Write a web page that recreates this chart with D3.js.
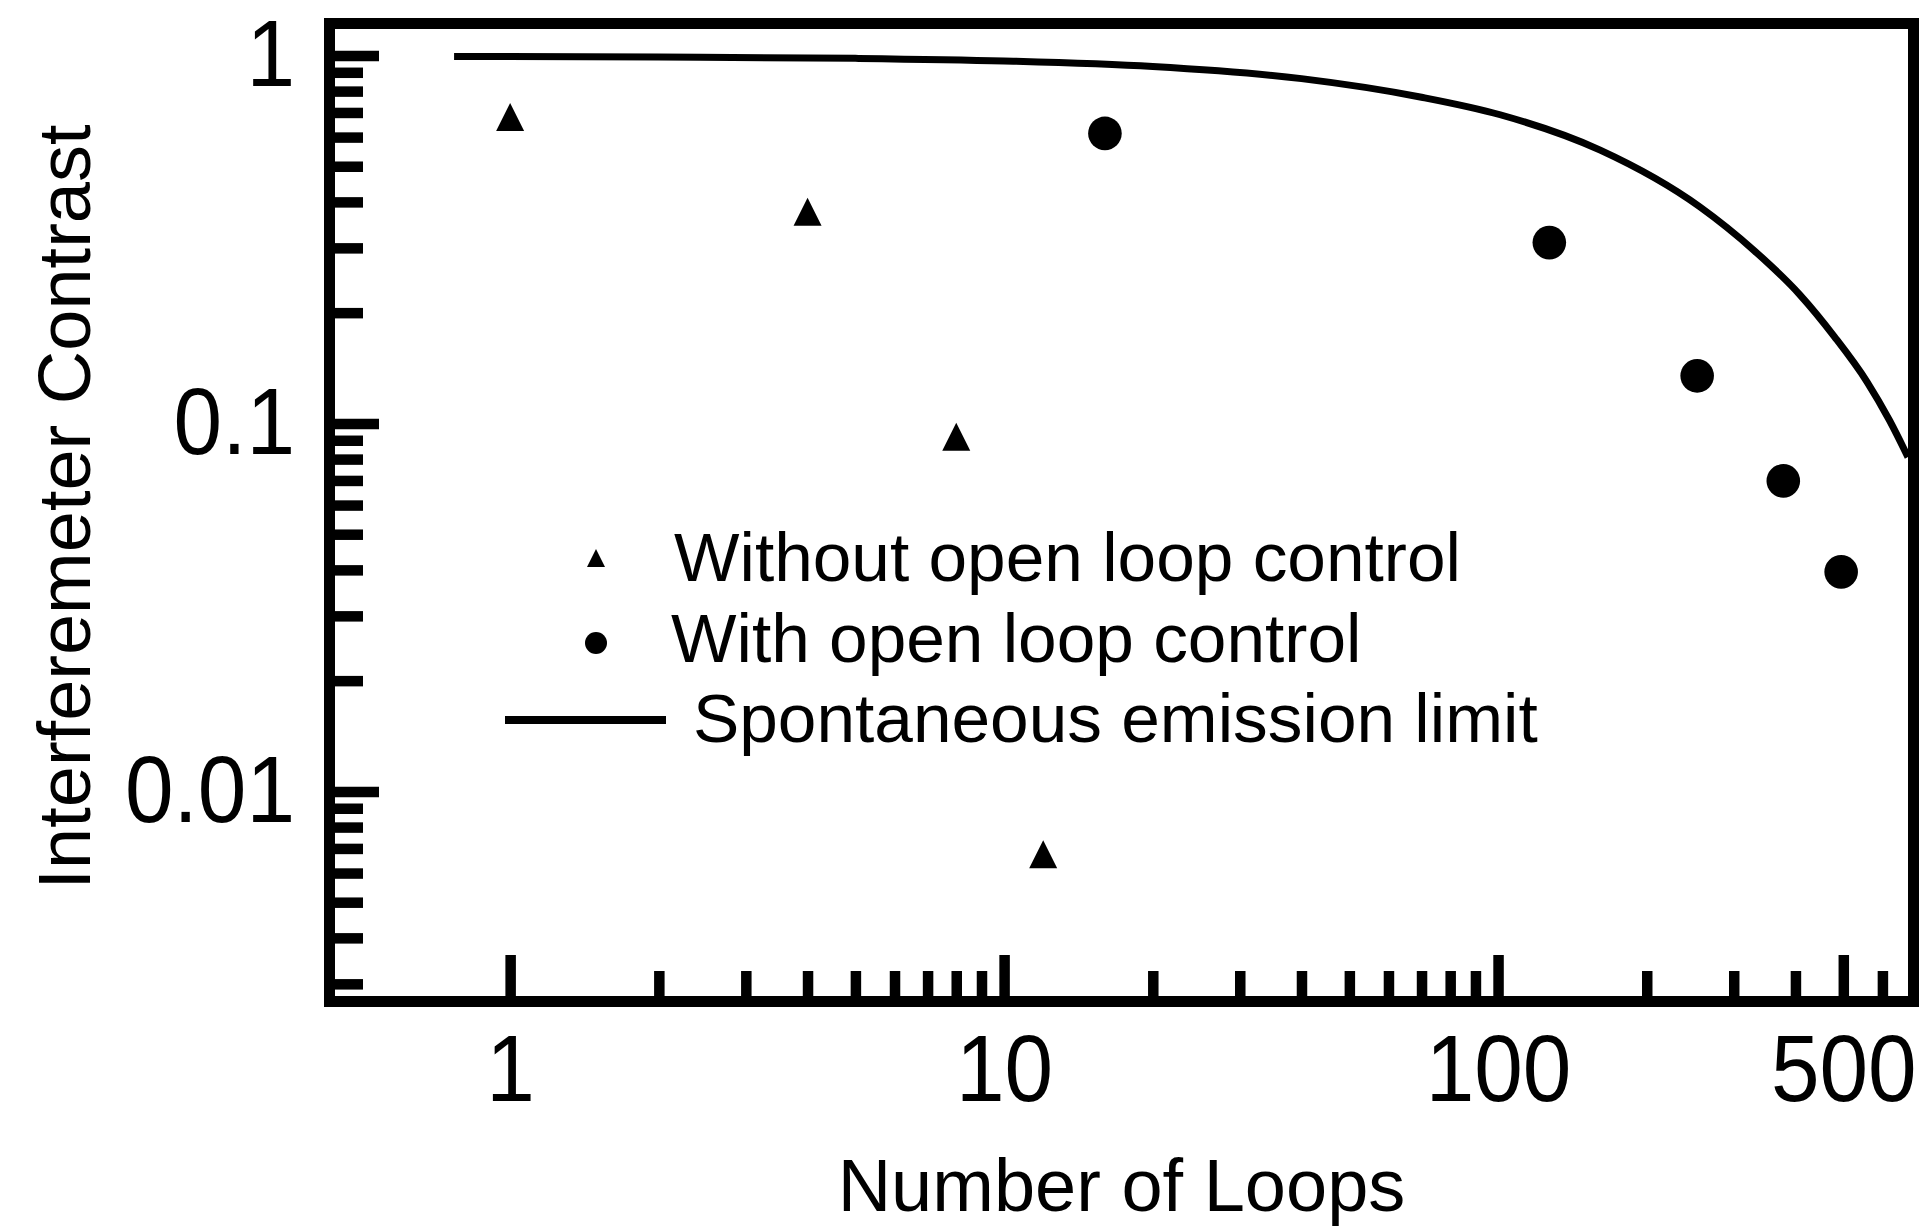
<!DOCTYPE html>
<html>
<head>
<meta charset="utf-8">
<script src="https://cdn.jsdelivr.net/npm/d3@7"></script>
<style>
  html, body { margin: 0; padding: 0; background: #fff; }
  svg { display: block; }
  text { font-family: "Liberation Sans", Arial, Helvetica, sans-serif; fill: #000; }
</style>
</head>
<body>
<svg id="chart" width="1932" height="1230"></svg>
<script>
// Measured interferometer contrast versus number of loops
const loopsWithout = [1, 4, 8, 12];
const contrastWithout = [0.68, 0.376, 0.092, 0.00675];

const loopsWith = [16, 127, 253, 378, 495];
const contrastWith = [0.614, 0.31, 0.1347, 0.0698, 0.0395];

// Spontaneous emission limit curve
const limitLoops = [0.77, 2, 5, 10, 20, 40, 70, 101, 161, 256, 330, 408, 480, 558, 620, 676];
const limitContrast = [0.994, 0.99, 0.982, 0.966, 0.933, 0.865, 0.77, 0.69, 0.553, 0.388, 0.295, 0.224, 0.172, 0.13, 0.102, 0.081];

// Axis ticks
const xMajorTicks = [1, 10, 100, 500];
const xMinorTicks = [2, 3, 4, 5, 6, 7, 8, 9, 20, 30, 40, 50, 60, 70, 80, 90, 200, 300, 400, 600];
const yMajorTicks = [0.01, 0.1, 1];
const yMinorTicks = [0.003, 0.004, 0.005, 0.006, 0.007, 0.008, 0.009,
                     0.02, 0.03, 0.04, 0.05, 0.06, 0.07, 0.08, 0.09,
                     0.2, 0.3, 0.4, 0.5, 0.6, 0.7, 0.8, 0.9];

const legendLabels = ["Without open loop control", "With open loop control", "Spontaneous emission limit"];
const xTitle = "Number of Loops";
const yTitle = "Interferemeter Contrast";

// Layout
const plot = { left: 335, right: 1908, top: 29, bottom: 996 };
const frameWidth = 11;
const tickWidth = 10.5;
const labelSqueeze = 0.92;   // tick labels are set slightly condensed

const svg = d3.select("#chart");

const x = d3.scaleLog().domain([0.442, 676]).range([plot.left, plot.right]);
const y = d3.scaleLog().domain([0.00278, 1.18]).range([plot.bottom, plot.top]);

// Clip region for the data area
svg.append("defs").append("clipPath").attr("id", "plot-clip")
  .append("rect")
  .attr("x", plot.left).attr("y", plot.top)
  .attr("width", plot.right - plot.left).attr("height", plot.bottom - plot.top);

function styleAxis(g, fontSize) {
  g.select(".domain").remove();
  g.selectAll(".tick line").attr("stroke", "#000").attr("stroke-width", tickWidth);
  g.selectAll(".tick text").attr("font-size", fontSize).attr("fill", "#000")
    .style("font-family", "'Liberation Sans', Arial, sans-serif")
    .attr("x", function () { return (+d3.select(this).attr("x") || 0) / labelSqueeze; })
    .attr("transform", `scale(${labelSqueeze},1)`);
}

// X axis: major (labelled) and minor ticks, pointing inward
svg.append("g")
  .attr("transform", `translate(0,${plot.bottom})`)
  .call(d3.axisBottom(x).tickValues(xMajorTicks).tickSizeInner(-41).tickSizeOuter(0)
    .tickPadding(38).tickFormat(d3.format("d")))
  .call(g => styleAxis(g, 95));

svg.append("g")
  .attr("transform", `translate(0,${plot.bottom})`)
  .call(d3.axisBottom(x).tickValues(xMinorTicks).tickSizeInner(-25).tickSizeOuter(0)
    .tickFormat(() => ""))
  .call(g => styleAxis(g, 95));

// Y axis
svg.append("g")
  .attr("transform", `translate(${plot.left},0)`)
  .call(d3.axisLeft(y).tickValues(yMajorTicks).tickSizeInner(-44).tickSizeOuter(0)
    .tickPadding(40).tickFormat(d => String(d)))
  .call(g => styleAxis(g, 95));

svg.append("g")
  .attr("transform", `translate(${plot.left},0)`)
  .call(d3.axisLeft(y).tickValues(yMinorTicks).tickSizeInner(-28).tickSizeOuter(0)
    .tickFormat(() => ""))
  .call(g => styleAxis(g, 95));

// Frame
svg.append("rect")
  .attr("x", plot.left - frameWidth / 2)
  .attr("y", plot.top - frameWidth / 2)
  .attr("width", plot.right - plot.left + frameWidth)
  .attr("height", plot.bottom - plot.top + frameWidth)
  .attr("fill", "none")
  .attr("stroke", "#000")
  .attr("stroke-width", frameWidth);

// Spontaneous emission limit
const limitData = limitLoops.map((n, i) => ({ n, c: limitContrast[i] }));
const line = d3.line().x(d => x(d.n)).y(d => y(d.c)).curve(d3.curveMonotoneX);
svg.append("path")
  .datum(limitData)
  .attr("clip-path", "url(#plot-clip)")
  .attr("d", line)
  .attr("fill", "none")
  .attr("stroke", "#000")
  .attr("stroke-width", 7);

// Marker shapes
const triangle = s => `M0,${-s / 2}L${s / 2},${s / 2}L${-s / 2},${s / 2}Z`;

const withoutData = loopsWithout.map((n, i) => ({ n, c: contrastWithout[i] }));
svg.append("g").selectAll("path")
  .data(withoutData)
  .join("path")
  .attr("transform", d => `translate(${x(d.n)},${y(d.c)})`)
  .attr("d", triangle(28))
  .attr("fill", "#000");

const withData = loopsWith.map((n, i) => ({ n, c: contrastWith[i] }));
svg.append("g").selectAll("circle")
  .data(withData)
  .join("circle")
  .attr("cx", d => x(d.n))
  .attr("cy", d => y(d.c))
  .attr("r", 16.8)
  .attr("fill", "#000");

// Legend
const legend = svg.append("g");
legend.append("path").attr("transform", "translate(596,558)").attr("d", triangle(18)).attr("fill", "#000");
legend.append("circle").attr("cx", 596).attr("cy", 643).attr("r", 11).attr("fill", "#000");
legend.append("line").attr("x1", 505).attr("x2", 666).attr("y1", 720).attr("y2", 720)
  .attr("stroke", "#000").attr("stroke-width", 8);

const legendPos = [[674, 581], [671, 662], [693, 742]];
legend.selectAll("text")
  .data(legendLabels)
  .join("text")
  .attr("x", (d, i) => legendPos[i][0])
  .attr("y", (d, i) => legendPos[i][1])
  .attr("font-size", 69.4)
  .text(d => d);

// Axis titles
svg.append("text")
  .attr("x", (plot.left + plot.right) / 2)
  .attr("y", 1211)
  .attr("text-anchor", "middle")
  .attr("font-size", 74)
  .text(xTitle);

svg.append("text")
  .attr("transform", "translate(90,507) rotate(-90)")
  .attr("text-anchor", "middle")
  .attr("font-size", 74)
  .text(yTitle);
</script>
</body>
</html>
